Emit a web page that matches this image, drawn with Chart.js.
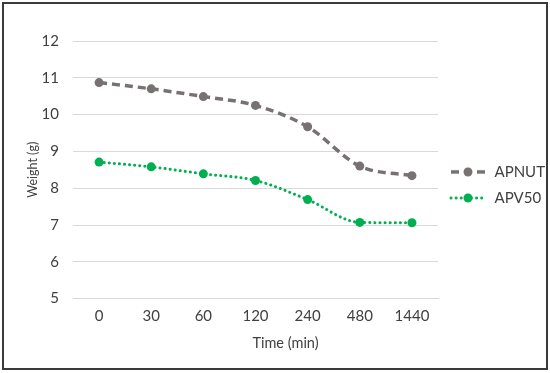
<!DOCTYPE html>
<html>
<head>
<meta charset="utf-8">
<script src="https://cdn.jsdelivr.net/npm/chart.js@4.4.1/dist/chart.umd.min.js"></script>
<style>
    body { margin: 0; background: #fff; }
    #marco { position: absolute; left: 2px; top: 2px; width: 542px; height: 364px; border: 2px solid #3a3a3a; }
    #marco canvas { display: block; }
</style>
</head>
<body>
<div id="marco"><canvas id="grafica" width="542" height="364"></canvas></div>
<script>
    // Datos
    const tiempos = ["0", "30", "60", "120", "240", "480", "1440"];
    const pesoAPNUT = [10.87, 10.70, 10.49, 10.25, 9.67, 8.60, 8.34];
    const pesoAPV50 = [8.71, 8.58, 8.39, 8.21, 7.69, 7.07, 7.06];
    const nombres = ["APNUT", "APV50"];

    const gris = "#777171";
    const verde = "#00b050";
    const fuente = "Lato, 'Open Sans', sans-serif";

    // icono de la leyenda: linea con el punto en medio
    function iconoLeyenda(color, dash, ancho, cap) {
        const c = document.createElement("canvas");
        c.width = 38;
        c.height = 12;
        const ctx = c.getContext("2d");
        ctx.strokeStyle = color;
        ctx.lineWidth = ancho;
        ctx.lineCap = cap;
        ctx.setLineDash(dash);
        ctx.beginPath();
        ctx.moveTo(2, 6);
        ctx.lineTo(36, 6);
        ctx.stroke();
        ctx.fillStyle = color;
        ctx.beginPath();
        ctx.arc(19, 6, 4.5, 0, Math.PI * 2);
        ctx.fill();
        return c;
    }

    const iconos = [
        iconoLeyenda(gris, [8, 5], 3.5, "butt"),
        iconoLeyenda(verde, [0.1, 5], 3, "round")
    ];

    const $grafica = document.querySelector("#grafica");

    new Chart($grafica, {
        type: "line",
        data: {
            labels: tiempos,
            datasets: [
                {
                    label: nombres[0],
                    data: pesoAPNUT,
                    borderColor: gris,
                    backgroundColor: gris,
                    borderWidth: 3.5,
                    borderDash: [8, 5],
                    pointRadius: 4.5,
                    pointBorderWidth: 0,
                    cubicInterpolationMode: "monotone"
                },
                {
                    label: nombres[1],
                    data: pesoAPV50,
                    borderColor: verde,
                    backgroundColor: verde,
                    borderWidth: 3,
                    borderDash: [0.1, 5],
                    borderCapStyle: "round",
                    pointRadius: 4.5,
                    pointBorderWidth: 0,
                    cubicInterpolationMode: "monotone"
                }
            ]
        },
        options: {
            responsive: false,
            animation: false,
            layout: { padding: { top: 37, left: 21, right: 0, bottom: 0 } },
            plugins: {
                tooltip: { enabled: false },
                legend: {
                    position: "right",
                    align: "start",
                    fullSize: false,
                    maxWidth: 108,
                    title: {
                        display: true,
                        text: " ",
                        font: { family: fuente, size: 12 },
                        padding: { top: 50, bottom: 48 }
                    },
                    labels: {
                        usePointStyle: true,
                        pointStyleWidth: 38,
                        boxHeight: 12,
                        padding: 11,
                        color: "#404040",
                        font: { family: fuente, size: 15 },
                        generateLabels: function (chart) {
                            return chart.data.datasets.map(function (ds, i) {
                                return {
                                    text: ds.label,
                                    pointStyle: iconos[i],
                                    fillStyle: ds.borderColor,
                                    strokeStyle: ds.borderColor,
                                    lineWidth: 0,
                                    fontColor: "#404040",
                                    datasetIndex: i
                                };
                            });
                        }
                    }
                },
                title: {
                    display: true,
                    position: "bottom",
                    text: "Time (min)",
                    color: "#404040",
                    font: { family: fuente, size: 14.5, weight: "normal" },
                    padding: { top: 0, bottom: 16 }
                }
            },
            scales: {
                x: {
                    offset: true,
                    grid: { display: false, drawTicks: false },
                    border: { display: true, color: "#d9d9d9", width: 1 },
                    ticks: { color: "#404040", font: { family: fuente, size: 15 }, padding: 9 }
                },
                y: {
                    min: 5,
                    max: 12,
                    afterFit: function (escala) {
                        escala.width = 48;
                    },
                    grid: { color: "#d9d9d9", lineWidth: 1, drawTicks: false },
                    border: { display: false },
                    ticks: { stepSize: 1, color: "#404040", font: { family: fuente, size: 15 }, padding: 14 },
                    title: {
                        display: true,
                        text: "Weight (g)",
                        color: "#404040",
                        font: { family: fuente, size: 12.5 },
                        padding: { top: 0, bottom: 4 }
                    }
                }
            }
        }
    });
</script>
</body>
</html>
